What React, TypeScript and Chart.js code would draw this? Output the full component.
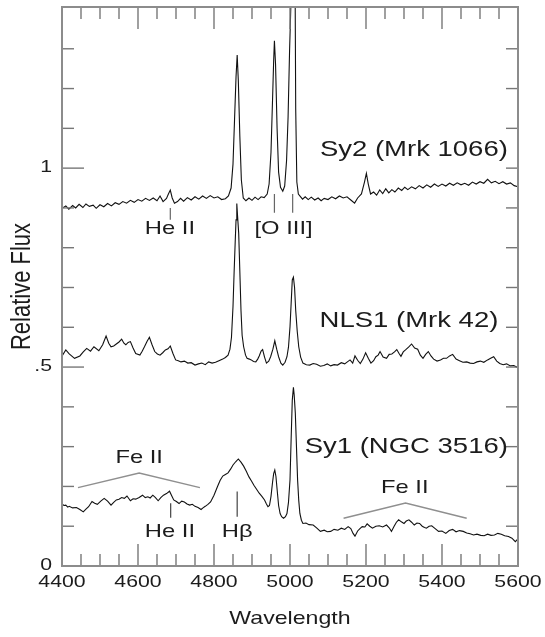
import { useEffect, useRef } from 'react';
import { Chart, registerables } from 'chart.js';

Chart.register(...registerables);

// ---- Spectra: [wavelength (Å), relative flux] ----
const sy2Spectrum: [number, number][] = [
  [4400,0.899],[4410,0.905],[4418,0.897],[4428,0.906],[4436,0.900],[4445,0.909],[4455,0.901],[4463,0.910],[4472,0.904],[4482,0.907],
  [4490,0.899],[4500,0.908],[4510,0.903],[4520,0.911],[4530,0.905],[4540,0.913],[4550,0.909],[4560,0.916],[4570,0.912],[4580,0.919],
  [4590,0.914],[4600,0.921],[4610,0.917],[4620,0.924],[4630,0.919],[4640,0.925],[4650,0.918],[4658,0.930],[4666,0.916],[4675,0.924],
  [4680,0.935],[4685,0.945],[4690,0.925],[4696,0.912],[4704,0.916],[4712,0.924],[4720,0.917],[4730,0.926],[4740,0.920],[4750,0.928],
  [4760,0.922],[4770,0.930],[4780,0.924],[4790,0.931],[4800,0.925],[4810,0.928],[4820,0.921],[4830,0.923],[4838,0.930],[4845,0.950],
  [4850,1.01],[4854,1.12],[4858,1.23],[4861,1.284],[4864,1.22],[4868,1.08],[4872,0.97],[4877,0.925],[4884,0.918],[4892,0.925],
  [4900,0.919],[4908,0.927],[4916,0.921],[4924,0.928],[4932,0.926],[4940,0.935],[4945,0.960],[4950,1.04],[4954,1.17],[4957,1.27],
  [4959,1.32],[4962,1.26],[4966,1.10],[4970,0.99],[4975,0.952],[4981,0.942],[4986,0.955],[4991,1.02],[4995,1.13],[4999,1.30],
  [5002,1.40],[5007,1.75],[5012,1.75],[5015,1.15],[5018,0.965],[5022,0.935],[5028,0.928],[5033,0.922],[5040,0.928],[5048,0.921],
  [5056,0.927],[5065,0.920],[5074,0.925],[5082,0.918],[5090,0.924],[5100,0.921],[5110,0.928],[5120,0.923],[5130,0.930],[5140,0.925],
  [5150,0.928],[5160,0.920],[5170,0.912],[5178,0.925],[5188,0.935],[5196,0.965],[5201,0.987],[5206,0.960],[5212,0.935],[5220,0.940],
  [5228,0.932],[5236,0.945],[5244,0.936],[5252,0.948],[5260,0.938],[5268,0.946],[5276,0.940],[5285,0.950],[5294,0.944],[5302,0.952],
  [5310,0.946],[5320,0.953],[5330,0.948],[5340,0.956],[5350,0.950],[5360,0.958],[5370,0.952],[5380,0.960],[5390,0.954],[5400,0.960],
  [5410,0.955],[5420,0.962],[5430,0.957],[5440,0.963],[5450,0.958],[5460,0.962],[5470,0.957],[5480,0.965],[5490,0.960],[5500,0.966],
  [5510,0.962],[5520,0.972],[5530,0.963],[5540,0.967],[5550,0.961],[5560,0.966],[5570,0.960],[5580,0.963],[5590,0.956],[5600,0.953],
];

const nls1Spectrum: [number, number][] = [
  [4399,0.526],[4410,0.543],[4419,0.533],[4433,0.522],[4447,0.528],[4456,0.538],[4465,0.547],[4475,0.540],[4484,0.551],[4497,0.541],
  [4507,0.556],[4516,0.578],[4523,0.560],[4529,0.551],[4536,0.553],[4543,0.558],[4550,0.563],[4557,0.570],[4563,0.560],[4568,0.556],
  [4574,0.562],[4580,0.564],[4587,0.548],[4594,0.534],[4605,0.530],[4611,0.540],[4617,0.551],[4624,0.565],[4630,0.575],[4637,0.556],
  [4644,0.539],[4651,0.533],[4658,0.530],[4665,0.536],[4672,0.543],[4679,0.546],[4685,0.553],[4692,0.534],[4699,0.518],[4706,0.516],
  [4713,0.513],[4722,0.515],[4731,0.510],[4740,0.511],[4750,0.505],[4759,0.508],[4768,0.510],[4777,0.506],[4786,0.513],[4795,0.510],
  [4804,0.512],[4813,0.516],[4823,0.520],[4830,0.524],[4837,0.530],[4842,0.545],[4846,0.575],[4850,0.652],[4853,0.74],[4856,0.82],
  [4858,0.87],[4860,0.911],[4862,0.88],[4865,0.836],[4868,0.74],[4871,0.643],[4874,0.58],[4878,0.551],[4883,0.530],[4887,0.522],
  [4893,0.520],[4898,0.518],[4904,0.514],[4910,0.513],[4915,0.520],[4919,0.528],[4924,0.540],[4928,0.544],[4933,0.525],[4938,0.510],
  [4944,0.515],[4949,0.526],[4955,0.545],[4960,0.566],[4965,0.545],[4970,0.526],[4976,0.510],[4981,0.505],[4987,0.512],[4992,0.526],
  [4996,0.550],[5000,0.601],[5003,0.660],[5006,0.719],[5009,0.726],[5012,0.700],[5015,0.643],[5019,0.590],[5023,0.551],[5028,0.525],
  [5034,0.510],[5043,0.506],[5052,0.505],[5061,0.509],[5070,0.507],[5080,0.502],[5089,0.504],[5098,0.508],[5107,0.503],[5116,0.506],
  [5125,0.505],[5135,0.511],[5144,0.508],[5151,0.513],[5158,0.518],[5165,0.510],[5171,0.528],[5178,0.517],[5185,0.509],[5192,0.520],
  [5199,0.536],[5206,0.522],[5213,0.510],[5220,0.516],[5226,0.526],[5232,0.530],[5237,0.539],[5245,0.525],[5254,0.522],[5261,0.532],
  [5268,0.533],[5275,0.538],[5281,0.544],[5287,0.534],[5292,0.527],[5298,0.538],[5304,0.543],[5312,0.550],[5320,0.558],[5328,0.548],
  [5336,0.545],[5343,0.530],[5350,0.522],[5357,0.532],[5364,0.539],[5371,0.528],[5378,0.520],[5387,0.515],[5396,0.518],[5404,0.522],
  [5412,0.522],[5420,0.528],[5428,0.532],[5437,0.520],[5446,0.516],[5455,0.512],[5465,0.513],[5474,0.510],[5483,0.509],[5492,0.513],
  [5501,0.515],[5510,0.512],[5520,0.518],[5528,0.522],[5536,0.526],[5544,0.515],[5552,0.509],[5561,0.506],[5570,0.508],[5580,0.503],
  [5589,0.504],[5596,0.500],[5602,0.503],
];

const sy1Spectrum: [number, number][] = [
  [4399,0.157],[4405,0.152],[4410,0.153],[4415,0.148],[4419,0.150],[4428,0.146],[4438,0.147],[4447,0.142],[4456,0.136],[4463,0.143],
  [4470,0.149],[4479,0.162],[4486,0.158],[4493,0.155],[4502,0.163],[4511,0.170],[4520,0.163],[4529,0.153],[4536,0.160],[4543,0.166],
  [4550,0.168],[4557,0.172],[4564,0.170],[4571,0.176],[4580,0.164],[4587,0.169],[4594,0.168],[4603,0.172],[4612,0.178],[4619,0.172],
  [4626,0.174],[4632,0.171],[4639,0.178],[4646,0.172],[4653,0.164],[4660,0.172],[4667,0.178],[4675,0.182],[4683,0.188],[4689,0.176],
  [4694,0.166],[4701,0.162],[4708,0.157],[4715,0.163],[4722,0.161],[4729,0.156],[4736,0.153],[4743,0.155],[4750,0.150],[4758,0.147],
  [4766,0.142],[4771,0.146],[4777,0.150],[4784,0.155],[4791,0.161],[4800,0.178],[4809,0.199],[4816,0.215],[4823,0.226],[4830,0.230],
  [4837,0.234],[4844,0.244],[4850,0.254],[4857,0.262],[4864,0.269],[4871,0.261],[4878,0.251],[4885,0.238],[4892,0.224],[4899,0.213],
  [4905,0.203],[4912,0.193],[4919,0.183],[4926,0.175],[4933,0.166],[4938,0.156],[4942,0.149],[4946,0.152],[4950,0.175],[4954,0.210],
  [4957,0.232],[4960,0.241],[4963,0.225],[4967,0.183],[4970,0.152],[4974,0.132],[4978,0.124],[4983,0.120],[4988,0.124],[4992,0.132],
  [4996,0.160],[5000,0.216],[5003,0.320],[5006,0.417],[5009,0.449],[5011,0.430],[5014,0.384],[5017,0.300],[5020,0.216],[5023,0.165],
  [5026,0.132],[5030,0.115],[5034,0.107],[5042,0.108],[5050,0.104],[5061,0.103],[5070,0.096],[5080,0.087],[5090,0.090],[5098,0.086],
  [5107,0.087],[5116,0.092],[5126,0.090],[5135,0.095],[5144,0.092],[5153,0.099],[5160,0.094],[5166,0.082],[5171,0.075],[5178,0.088],
  [5184,0.094],[5190,0.099],[5197,0.098],[5203,0.106],[5210,0.100],[5217,0.095],[5226,0.100],[5235,0.101],[5244,0.098],[5254,0.103],
  [5261,0.096],[5267,0.087],[5274,0.100],[5280,0.110],[5286,0.116],[5293,0.111],[5300,0.107],[5306,0.113],[5313,0.116],[5320,0.110],
  [5327,0.103],[5334,0.108],[5341,0.107],[5348,0.100],[5354,0.097],[5359,0.095],[5366,0.100],[5373,0.101],[5382,0.094],[5391,0.087],
  [5400,0.088],[5410,0.082],[5419,0.089],[5428,0.092],[5437,0.086],[5446,0.089],[5456,0.087],[5465,0.083],[5474,0.081],[5483,0.078],
  [5492,0.080],[5502,0.077],[5511,0.076],[5520,0.080],[5529,0.077],[5538,0.078],[5547,0.082],[5556,0.080],[5565,0.076],[5575,0.074],
  [5584,0.070],[5593,0.061],[5598,0.066],[5602,0.070],
];

// ---- Line identification markers: [wavelength, flux] endpoints ----
const sy2HeIIMark: [number, number][] = [[4685, 0.900], [4685, 0.870]];
const sy2OIIIMark1: [number, number][] = [[4959, 0.935], [4959, 0.888]];
const sy2OIIIMark2: [number, number][] = [[5007, 0.935], [5007, 0.888]];
const sy1HeIIMark: [number, number][] = [[4686, 0.158], [4686, 0.121]];
const sy1HbMark: [number, number][] = [[4861, 0.187], [4861, 0.124]];
const feIILeft: [number, number][] = [[4442, 0.197], [4603, 0.234], [4763, 0.197]];
const feIIRight: [number, number][] = [[5141, 0.120], [5304, 0.158], [5465, 0.120]];

// ---- Axis ticks ----
const xMajorTicks = [4400, 4600, 4800, 5000, 5200, 5400, 5600];
const xTickLabels = ['4400', '4600', '4800', '5000', '5200', '5400', '5600'];
const yMajorTicks = [0, 0.5, 1];
const yTickLabels = ['0', '.5', '1'];
const X_MIN = 4400, X_MAX = 5600, X_MINOR = 50;
const Y_MIN = 0, Y_MAX = 1.405, Y_MINOR = 0.1;

// ---- Text annotations: [text, wavelength, flux, size] ----
const annotations: [string, number, number, number][] = [
  ['Sy2 (Mrk 1066)', 5326, 1.045, 22],
  ['NLS1 (Mrk 42)', 5313, 0.616, 22],
  ['Sy1 (NGC 3516)', 5306, 0.299, 22],
  ['He II', 4684, 0.847, 19],
  ['[O III]', 4983, 0.847, 19],
  ['Fe II', 4603, 0.271, 19],
  ['He II', 4684, 0.085, 19],
  ['Hβ', 4861, 0.085, 19],
  ['Fe II', 5302, 0.196, 19],
];

const FONT = '"Liberation Sans", Arial, Helvetica, sans-serif';
const STRETCH = 1.25;
const TEXT_COLOR = '#1c1c1c';

function drawText(ctx: CanvasRenderingContext2D, text: string, px: number, py: number, size: number, align: CanvasTextAlign = 'center', rotate = false) {
  ctx.save();
  ctx.translate(px, py);
  ctx.scale(STRETCH, 1);
  if (rotate) ctx.rotate(-Math.PI / 2);
  ctx.font = `${size}px ${FONT}`;
  ctx.fillStyle = TEXT_COLOR;
  ctx.textAlign = align;
  ctx.textBaseline = 'middle';
  ctx.fillText(text, 0, 0);
  ctx.restore();
}

const frameAndTextPlugin = {
  id: 'frameAndText',
  afterDatasetsDraw(chart: any) {
    const { ctx, chartArea: a, scales } = chart;
    const xs = scales.x, ys = scales.y;
    ctx.save();
    const seg = (x1: number, y1: number, x2: number, y2: number) => {
      ctx.beginPath(); ctx.moveTo(x1, y1); ctx.lineTo(x2, y2); ctx.stroke();
    };
    // ticks
    ctx.strokeStyle = '#777';
    ctx.lineWidth = 1.4;
    for (let v = X_MIN + X_MINOR; v < X_MAX; v += X_MINOR) {
      const px = xs.getPixelForValue(v);
      const len = xMajorTicks.includes(v) ? 22 : 12;
      seg(px, a.bottom, px, a.bottom - len);
      seg(px, a.top, px, a.top + len);
    }
    for (let i = 1; Y_MINOR * i < Y_MAX - 0.05; i++) {
      const v = Math.round(Y_MINOR * i * 10) / 10;
      const py = ys.getPixelForValue(v);
      const major = yMajorTicks.includes(v);
      seg(a.left, py, a.left + (major ? 22 : 12), py);
      seg(a.right, py, a.right - 12, py);
    }
    // frame
    ctx.strokeStyle = '#8c8c8c';
    ctx.lineWidth = 2;
    ctx.strokeRect(a.left, a.top, a.right - a.left, a.bottom - a.top);
    ctx.restore();

    // tick labels
    xMajorTicks.forEach((v, i) => drawText(ctx, xTickLabels[i], xs.getPixelForValue(v), a.bottom + 16, 17));
    yMajorTicks.forEach((v, i) => drawText(ctx, yTickLabels[i], a.left - 10, ys.getPixelForValue(v) - 1, 17, 'right'));
    // axis titles
    drawText(ctx, 'Wavelength', (a.left + a.right) / 2, 619, 18.5);
    drawText(ctx, 'Relative Flux', 22, (a.top + a.bottom) / 2, 22, 'center', true);
    // annotations
    annotations.forEach(([t, wl, fl, size]) => drawText(ctx, t, xs.getPixelForValue(wl), ys.getPixelForValue(fl), size));
  },
};

const toXY = (arr: [number, number][]) => arr.map(([x, y]) => ({ x, y }));

export default function App() {
  const ref = useRef<HTMLCanvasElement | null>(null);
  useEffect(() => {
    if (!ref.current) return;
    const spec = (d: [number, number][]) => ({
      data: toXY(d), borderColor: '#111', borderWidth: 1.1, pointRadius: 0, tension: 0,
    });
    const mark = (d: [number, number][], color: string, w: number) => ({
      data: toXY(d), borderColor: color, borderWidth: w, pointRadius: 0, tension: 0,
    });
    const chart = new Chart(ref.current, {
      type: 'line',
      data: {
        datasets: [
          spec(sy2Spectrum),
          spec(nls1Spectrum),
          spec(sy1Spectrum),
          mark(sy2HeIIMark, '#666', 1.2),
          mark(sy2OIIIMark1, '#666', 1.2),
          mark(sy2OIIIMark2, '#666', 1.2),
          mark(sy1HeIIMark, '#444', 1.2),
          mark(sy1HbMark, '#444', 1.2),
          mark(feIILeft, '#8f8f8f', 1.5),
          mark(feIIRight, '#8f8f8f', 1.5),
        ] as any,
      },
      options: {
        responsive: false,
        animation: false,
        devicePixelRatio: 1,
        layout: { padding: { left: 62, top: 7, right: 27, bottom: 71 } },
        plugins: { legend: { display: false }, tooltip: { enabled: false } },
        scales: {
          x: { type: 'linear', min: X_MIN, max: X_MAX, display: false },
          y: { type: 'linear', min: Y_MIN, max: Y_MAX, display: false },
        },
      },
      plugins: [frameAndTextPlugin],
    });
    return () => chart.destroy();
  }, []);
  return (
    <div style={{ position: 'absolute', left: 0, top: 0, width: 545, height: 637, background: '#fff' }}>
      <canvas ref={ref} width={545} height={637} style={{ width: 545, height: 637, display: 'block' }} />
    </div>
  );
}
